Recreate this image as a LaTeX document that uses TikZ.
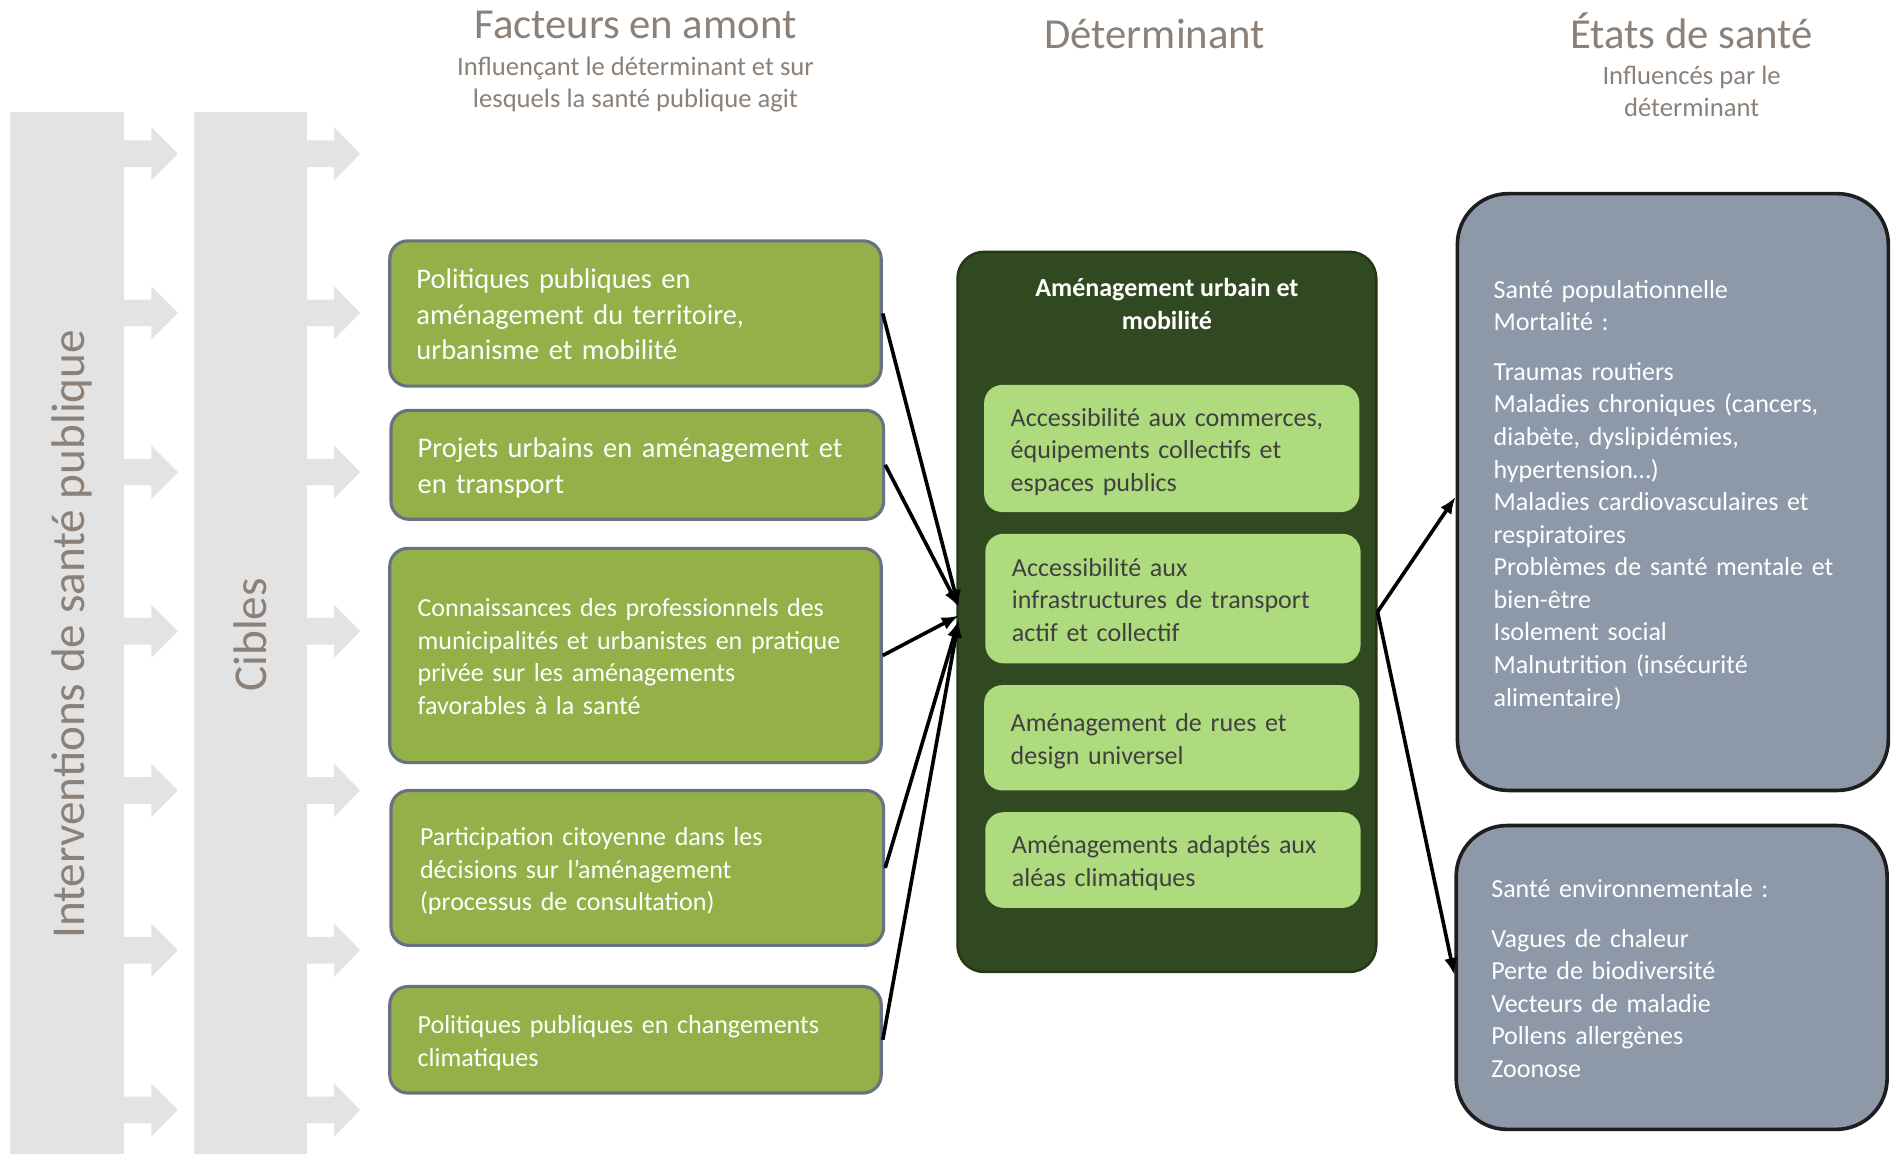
\documentclass[tikz,border=0pt]{standalone}
\usepackage{fontspec}
\setmainfont{Carlito}
\usetikzlibrary{arrows.meta}

\definecolor{hdrtext}{RGB}{139,129,121}
\definecolor{barfill}{RGB}{227,227,227}
\definecolor{oliveFill}{RGB}{147,177,72}
\definecolor{oliveEdge}{RGB}{104,114,128}
\definecolor{detFill}{RGB}{48,73,33}
\definecolor{detEdge}{RGB}{36,56,24}
\definecolor{leafFill}{RGB}{173,219,125}
\definecolor{leafText}{RGB}{64,64,64}
\definecolor{stateFill}{RGB}{141,152,169}
\definecolor{stateEdge}{RGB}{30,30,30}

% font sizes (1pt = one unit of the drawing grid)
\newcommand{\txtHead}{\fontsize{35.3pt}{42pt}\selectfont}
\newcommand{\txtSide}{\fontsize{39pt}{47pt}\selectfont}
\newcommand{\txtBig}{\fontsize{23.5pt}{29.3pt}\selectfont}
\newcommand{\txtMid}{\fontsize{21.5pt}{26.9pt}\selectfont}
\newcommand{\txtSub}{\fontsize{22pt}{27pt}\selectfont}
% struts that centre a block of lines on its x-height
\newcommand{\upstrut}{\rule{0pt}{\dimexpr0.7\baselineskip+6pt\relax}}
\newcommand{\downstrut}{\rule[-0.3\baselineskip]{0pt}{0pt}}

\tikzset{
  hdr/.style={text=hdrtext, inner sep=0pt},
  boxtext/.style={execute at begin node=\upstrut, execute at end node=\downstrut},
  hdrsub/.style={text=hdrtext, inner sep=0pt, align=center, font=\txtSub, boxtext},
  facteur/.style={draw=oliveEdge, line width=2.6pt, fill=oliveFill,
    rounded corners=15pt, text=white, align=left, inner ysep=0pt, boxtext},
  detbox/.style={draw=detEdge, line width=2pt, fill=detFill,
    rounded corners=22pt, inner sep=0pt},
  dettitle/.style={text=white, align=center, inner sep=0pt,
    font=\fontsize{21.5pt}{27.5pt}\selectfont\bfseries, boxtext},
  leaf/.style={fill=leafFill, rounded corners=15pt, text=leafText,
    text width=266pt, inner xsep=22pt, inner ysep=0pt, minimum width=310pt,
    align=left, font=\txtMid, boxtext},
  state/.style={draw=stateEdge, line width=3pt, fill=stateFill,
    rounded corners=42pt, text=white, align=left, inner ysep=0pt,
    font=\txtMid, boxtext},
  link/.style={draw=black, line width=3pt,
    -{Latex[length=14pt,width=11pt]}},
}

\begin{document}
\begin{tikzpicture}[x=1pt,y=-1pt]
\useasboundingbox (0,0) rectangle (1568,953);
\fill[white] (0,0) rectangle (1568,953);

% ---- grey columns with block arrows ----
\fill[barfill] (8,92.6) rectangle (102.5,953);
\fill[barfill] (160,92.6) rectangle (253.5,953);
\foreach \y in {127,258.5,390,521.5,653,785,917} {
  \fill[barfill] (102,\y-11) -- (125,\y-11) -- (125,\y-22) -- (147,\y)
     -- (125,\y+22) -- (125,\y+11) -- (102,\y+11) -- cycle;
  \fill[barfill] (253,\y-11) -- (276,\y-11) -- (276,\y-22) -- (297.5,\y)
     -- (276,\y+22) -- (276,\y+11) -- (253,\y+11) -- cycle;
}
\node[hdr, rotate=90, anchor=base, font=\txtSide] (interv) at (70,524)
  {Interventions de santé publique};
\node[hdr, rotate=90, anchor=base, font=\txtSide] (cibles) at (220,524.5)
  {Cibles};

% ---- column headings ----
\node[hdr, anchor=base, font=\txtHead] (hdrA) at (525,32) {Facteurs en amont};
\node[hdrsub] (hdrAsub) at (525,72)
  {Influençant le déterminant et sur\\lesquels la santé publique agit};
\node[hdr, anchor=base, font=\txtHead] (hdrB) at (954,40) {Déterminant};
\node[hdr, anchor=base, font=\txtHead] (hdrC) at (1397.5,40) {États de santé};
\node[hdrsub] (hdrCsub) at (1397.5,79.5)
  {Influencés par le\\déterminant};

% ---- upstream factors ----
\node[facteur, text width=362pt, inner xsep=22pt, minimum height=120pt,
  font=\txtBig] (f1) at (525,259)
  {Politiques publiques en\\aménagement du territoire,\\urbanisme et mobilité};
\node[facteur, text width=363pt, inner xsep=22pt, minimum height=90pt,
  font=\txtBig] (f2) at (526.5,384)
  {Projets urbains en aménagement et\\en transport};
\node[facteur, text width=360pt, inner xsep=23pt, minimum height=177pt,
  font=\txtMid] (f3) at (525,541.5)
  {Connaissances des professionnels des\\municipalités et urbanistes en pratique\\privée sur les aménagements\\favorables à la santé};
\node[facteur, text width=359pt, inner xsep=24pt, minimum height=128pt,
  font=\txtMid] (f4) at (526.5,717)
  {Participation citoyenne dans les\\décisions sur l’aménagement\\(processus de consultation)};
\node[facteur, text width=360pt, inner xsep=23pt, minimum height=88pt,
  font=\txtMid] (f5) at (525,859)
  {Politiques publiques en changements\\climatiques};

% ---- determinant ----
\node[detbox, minimum width=346pt, minimum height=595pt] (det) at (964,505.5) {};
\node[dettitle] (dettitle) at (964,255) {Aménagement urbain et\\mobilité};
\node[leaf, minimum height=105pt] (d1) at (968,370.5)
  {Accessibilité aux commerces,\\équipements collectifs et\\espaces publics};
\node[leaf, minimum height=107pt] (d2) at (969,494.5)
  {Accessibilité aux\\infrastructures de transport\\actif et collectif};
\node[leaf, minimum height=87pt] (d3) at (968,609.5)
  {Aménagement de rues et\\design universel};
\node[leaf, minimum height=79pt] (d4) at (969,710.5)
  {Aménagements adaptés aux\\aléas climatiques};

% ---- health states ----
\node[state, text width=296pt, inner xsep=30pt, minimum height=493pt] (s1)
  at (1382,406.5)
  {Santé populationnelle\\Mortalité~:\\[14pt]Traumas routiers\\Maladies chroniques (cancers,\\diabète, dyslipidémies,\\hypertension…)\\Maladies cardiovasculaires et\\respiratoires\\Problèmes de santé mentale et\\bien-être\\Isolement social\\Malnutrition (insécurité\\alimentaire)};
\node[state, text width=298pt, inner xsep=29pt, minimum height=251pt] (s2)
  at (1381,807.5)
  {Santé environnementale~:\\[14pt]Vagues de chaleur\\Perte de biodiversité\\Vecteurs de maladie\\Pollens allergènes\\Zoonose};

% ---- connectors ----
\coordinate (inA) at ([xshift=2pt,yshift=4pt]det.west);
\coordinate (inB) at ([xshift=2pt,yshift=-3pt]det.west);
\coordinate (inC) at ([xshift=2pt,yshift=-7pt]det.west);
\coordinate (toS1) at ([yshift=-4pt]s1.west);
\coordinate (toS2) at ([yshift=2pt]s2.west);
\draw[link] (f1.east) -- (inA);
\draw[link] (f2.east) -- (inA);
\draw[link] (f3.east) -- (inB);
\draw[link] (f4.east) -- (inC);
\draw[link] (f5.east) -- (inC);
\draw[link] (det.east) -- (toS1);
\draw[link] (det.east) -- (toS2);
\end{tikzpicture}
\end{document}
